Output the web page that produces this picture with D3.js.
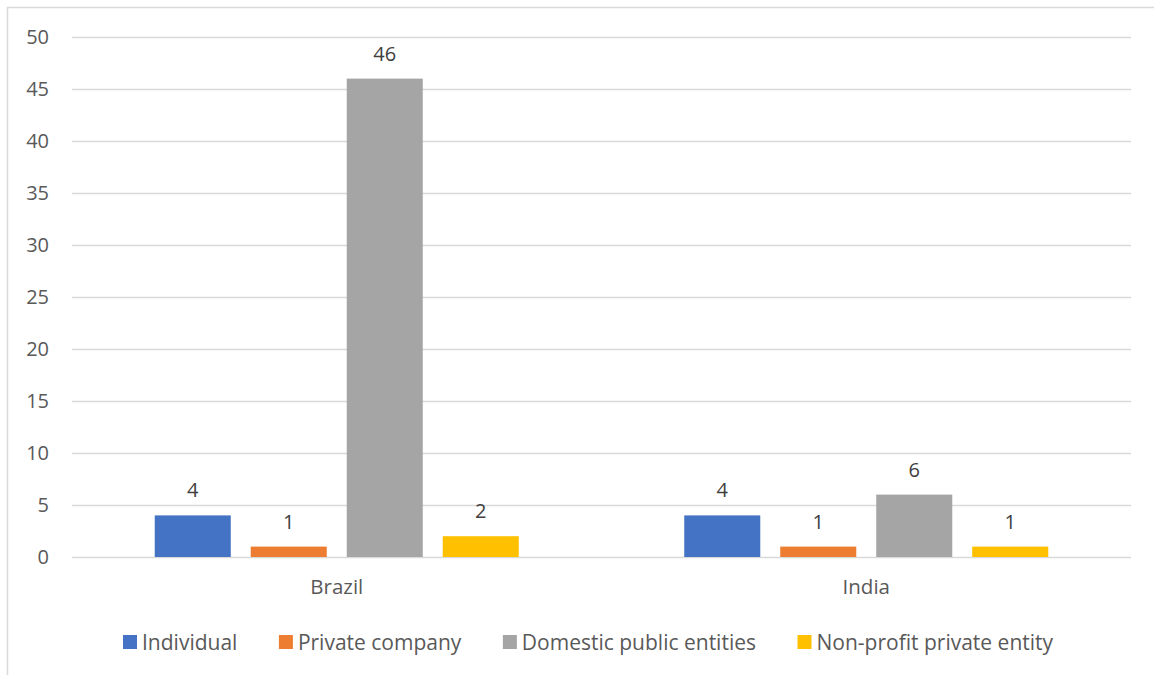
<!DOCTYPE html>
<html><head><meta charset="utf-8">
<script src="https://cdn.jsdelivr.net/npm/d3@7"></script>
<style>body{margin:0;background:#fff}svg{display:block}text{font-family:"Open Sans","Noto Sans",sans-serif}</style>
</head><body><svg id="c" width="1154" height="675"></svg>
<script>
const categories = ["Brazil", "India"];
const seriesNames = ["Individual", "Private company", "Domestic public entities", "Non-profit private entity"];
const seriesColors = ["#4472C4", "#ED7D31", "#A5A5A5", "#FFC000"];
const individual = [4, 4];
const privateCompany = [1, 1];
const domesticPublic = [46, 6];
const nonProfit = [2, 1];
const yTicks = [0, 5, 10, 15, 20, 25, 30, 35, 40, 45, 50];

const seriesValues = [individual, privateCompany, domesticPublic, nonProfit];
const svg = d3.select("#c");
const plotL = 72, plotR = 1131, plotT = 37, plotB = 557;

svg.append("rect").attr("x", 7.5).attr("y", 7.5).attr("width", 1160).attr("height", 680)
  .attr("fill", "none").attr("stroke", "#D9D9D9").attr("stroke-width", 1.5);

const y = d3.scaleLinear().domain([0, 50]).range([plotB, plotT]);
const x0 = d3.scaleBand().domain(categories).range([plotL, plotR]).paddingInner(0.3125).paddingOuter(0.15625);
const x1 = d3.scaleBand().domain(seriesNames).range([0, x0.bandwidth()]).paddingInner(0.208).paddingOuter(0);

const yAxis = d3.axisLeft(y).tickValues(yTicks).tickSize(-(plotR - plotL)).tickPadding(23);
const ga = svg.append("g").attr("transform", `translate(${plotL},0)`).call(yAxis);
ga.select(".domain").remove();
ga.selectAll(".tick line").attr("stroke", "#D9D9D9").attr("stroke-width", 1.5);
ga.selectAll(".tick text").attr("fill", "#595959").style("font-size", "20px").attr("font-family", "Open Sans");

const groups = svg.append("g").selectAll("g").data(categories).join("g")
  .attr("transform", d => `translate(${x0(d)},0)`);
groups.each(function(cat, ci) {
  const g = d3.select(this);
  seriesNames.forEach((s, si) => {
    const v = seriesValues[si][ci];
    g.append("rect").attr("x", x1(s)).attr("width", x1.bandwidth())
      .attr("y", y(v)).attr("height", y(0) - y(v)).attr("fill", seriesColors[si]);
    g.append("text").attr("x", x1(s) + x1.bandwidth() / 2).attr("y", y(v) - 18)
      .attr("text-anchor", "middle").attr("fill", "#404040").style("font-size", "20px").text(v);
  });
});

const xAxis = d3.axisBottom(x0).tickSize(0).tickPadding(22);
const gx = svg.append("g").attr("transform", `translate(0,${plotB})`).call(xAxis);
gx.select(".domain").remove();
gx.selectAll(".tick text").attr("fill", "#595959").style("font-size", "20.5px").attr("font-family", "Open Sans");

// legend
const lg = svg.append("g");
let lx = 123;
seriesNames.forEach((s, i) => {
  lg.append("rect").attr("x", lx).attr("y", 635).attr("width", 14).attr("height", 14).attr("fill", seriesColors[i]);
  const t = lg.append("text").attr("x", lx + 19).attr("y", 649.5).attr("fill", "#595959").style("font-size", "21px").text(s);
  lx += 19 + t.node().getComputedTextLength() + 41.5;
});
</script></body></html>
